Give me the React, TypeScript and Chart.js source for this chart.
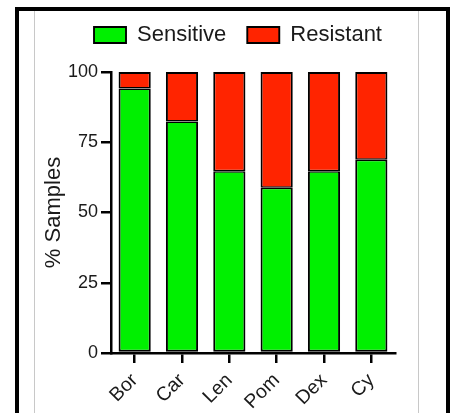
import React, { useEffect, useRef } from 'react';
import { Chart, registerables } from 'chart.js';

Chart.register(...registerables);

const categories = ['Bor', 'Car', 'Len', 'Pom', 'Dex', 'Cy'];
const sensitive = [94.1, 82.4, 64.7, 58.8, 64.7, 68.8];
const resistant = [5.9, 17.6, 35.3, 41.2, 35.3, 31.2];
const yMin = 0;
const yMax = 100;
const yStep = 25;

const FONT = '"Liberation Sans", Arial, Helvetica, sans-serif';
const GREEN = '#00f000';
const RED = '#ff2400';
const TEXT = '#1a1a1a';

export default function App() {
  const ref = useRef<HTMLCanvasElement | null>(null);

  useEffect(() => {
    if (!ref.current) return;
    Chart.defaults.font.family = FONT;
    const chart = new Chart(ref.current, {
      type: 'bar',
      data: {
        labels: categories,
        datasets: [
          {
            label: 'Sensitive',
            data: sensitive,
            backgroundColor: GREEN,
            borderColor: '#000',
            borderWidth: { top: 1.5, left: 2, right: 2, bottom: 2 },
            borderSkipped: false,
            xAxisID: 'x',
            yAxisID: 'y',
          },
          {
            label: 'Resistant',
            data: resistant,
            backgroundColor: RED,
            borderColor: '#000',
            borderWidth: { top: 2, left: 2, right: 2, bottom: 1.5 },
            borderSkipped: false,
            xAxisID: 'x',
            yAxisID: 'y',
          },
        ],
      },
      options: {
        responsive: false,
        animation: false,
        layout: { padding: { left: 23, right: 0, top: 3, bottom: 0 } },
        datasets: {
          bar: { barPercentage: 0.68, categoryPercentage: 1 },
        },
        plugins: {
          tooltip: { enabled: false },
          legend: {
            position: 'top',
            labels: {
              boxWidth: 32,
              boxHeight: 16,
              padding: 21,
              color: TEXT,
              font: { size: 22, family: FONT },
            },
          },
        },
        scales: {
          x: {
            stacked: true,
            position: 'bottom',
            offset: true,
            grid: {
              display: true,
              offset: false,
              drawOnChartArea: false,
              drawTicks: true,
              tickLength: 10,
              color: '#000',
              lineWidth: 2.5,
            },
            border: { display: true, color: '#000', width: 2.5 },
            ticks: {
              color: TEXT,
              font: { size: 19.5, family: FONT },
              minRotation: 45,
              maxRotation: 45,
              padding: 6,
              autoSkip: false,
            },
            afterFit: (s: any) => {
              s.height = 60;
            },
          },
          y: {
            stacked: true,
            position: 'left',
            min: yMin,
            max: yMax,
            grid: {
              display: true,
              drawOnChartArea: false,
              drawTicks: true,
              tickLength: 10,
              color: '#000',
              lineWidth: 2.5,
            },
            border: { display: true, color: '#000', width: 2.5 },
            ticks: {
              stepSize: yStep,
              color: TEXT,
              font: { size: 18, family: FONT },
              padding: 3,
            },
            title: {
              display: true,
              text: '% Samples',
              color: TEXT,
              font: { size: 22, family: FONT },
              padding: { top: 18, bottom: 0 },
            },
            afterFit: (s: any) => {
              s.width = 88;
            },
          },
          xTop: {
            type: 'linear',
            position: 'top',
            display: true,
            grid: { display: false },
            border: { display: false },
            ticks: { display: false },
            afterFit: (s: any) => {
              s.height = 16;
            },
          },
          yRight: {
            type: 'linear',
            position: 'right',
            display: true,
            grid: { display: false },
            border: { display: false },
            ticks: { display: false },
            afterFit: (s: any) => {
              s.width = 58;
            },
          },
        },
      },
    } as any);
    return () => chart.destroy();
  }, []);

  return (
    <div style={{ position: 'fixed', left: 0, top: 0, width: 453, height: 413, overflow: 'hidden', background: '#fff' }}>
      <div
        style={{
          position: 'absolute',
          left: 15,
          top: 7,
          width: 435,
          height: 440,
          boxSizing: 'border-box',
          borderLeft: '4px solid #000',
          borderTop: '4px solid #000',
          borderRight: '4px solid #000',
        }}
      />
      <div style={{ position: 'absolute', left: 34, top: 11, width: 1, height: 420, background: '#c8c8c8' }} />
      <div style={{ position: 'absolute', left: 418, top: 11, width: 1, height: 420, background: '#c8c8c8' }} />
      <canvas ref={ref} width={453} height={413} style={{ position: 'absolute', left: 0, top: 0, width: 453, height: 413 }} />
    </div>
  );
}
